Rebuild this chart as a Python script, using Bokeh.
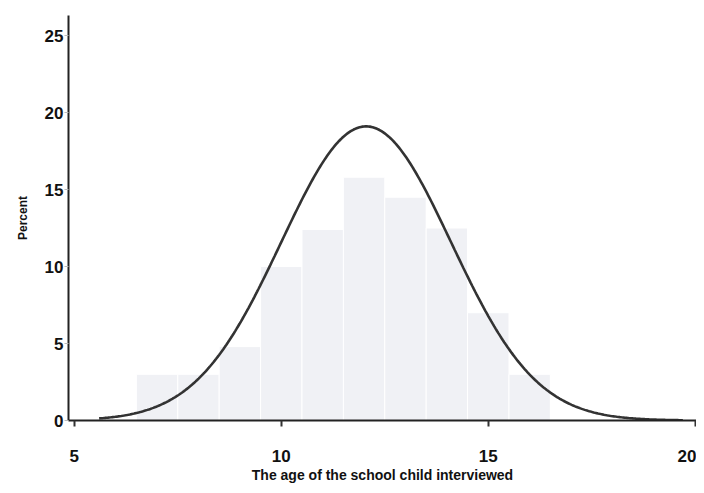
import numpy as np
from bokeh.plotting import figure
from bokeh.models import Range1d, FixedTicker
from bokeh.embed import file_html
from bokeh.resources import INLINE

# Histogram bins (age, centred on integers) and percent values
ages = [7, 8, 9, 10, 11, 12, 13, 14, 15, 16]
percent = [3.0, 3.0, 4.8, 10.0, 12.4, 15.8, 14.5, 12.5, 7.0, 3.0]

# Fitted normal curve parameters
curve_mean = 12.05
curve_sd = 2.05
curve_peak = 19.1
curve_start, curve_end = 5.6, 19.7

x_ticks = [5, 10, 15, 20]
y_ticks = [0, 5, 10, 15, 20, 25]

p = figure(width=696, height=485, output_backend="svg", toolbar_location=None,
           x_range=Range1d(4.86, 20.03), y_range=Range1d(0, 26.3),
           min_border_left=68, min_border_right=0, min_border_top=15,
           min_border_bottom=60)
p.outline_line_color = None
p.xgrid.visible = False
p.ygrid.visible = False
p.background_fill_color = "white"

p.vbar(x=ages, top=percent, width=1.0, fill_color="#f0f1f5",
       line_color="white", line_width=1)

xs = np.linspace(curve_start, curve_end, 400)
ys = curve_peak * np.exp(-0.5 * ((xs - curve_mean) / curve_sd) ** 2)
p.line(xs, ys, line_color="#333333", line_width=2.6)

font = "Liberation Sans"
for ax in (p.xaxis[0], p.yaxis[0]):
    ax.axis_line_color = "#222222"
    ax.axis_line_width = 2
    ax.major_tick_line_color = "#333333"
    ax.major_tick_line_width = 2
    ax.minor_tick_line_color = None
    ax.major_label_text_font = font
    ax.major_label_text_font_style = "bold"
    ax.major_label_text_font_size = "17px"
    ax.major_label_text_color = "#111111"
    ax.axis_label_text_font = font
    ax.axis_label_text_font_style = "bold"
    ax.axis_label_text_color = "#111111"

p.xaxis.ticker = FixedTicker(ticks=x_ticks)
p.yaxis.ticker = FixedTicker(ticks=y_ticks)
p.xaxis.major_tick_in = 0
p.xaxis.major_tick_out = 6
p.xaxis.major_label_standoff = 23
p.xaxis.axis_label = "The age of the school child interviewed"
p.xaxis.axis_label_text_font_size = "14px"
p.xaxis.axis_label_standoff = 2

p.yaxis.major_tick_in = 0
p.yaxis.major_tick_out = 4
p.yaxis.major_tick_line_color = "#bbbbbb"
p.yaxis.major_tick_line_width = 1
p.yaxis.major_label_standoff = 1
p.yaxis.axis_label = "Percent"
p.yaxis.axis_label_text_font_size = "12px"
p.yaxis.axis_label_standoff = 12

open("out.html", "w").write(file_html(p, INLINE))
